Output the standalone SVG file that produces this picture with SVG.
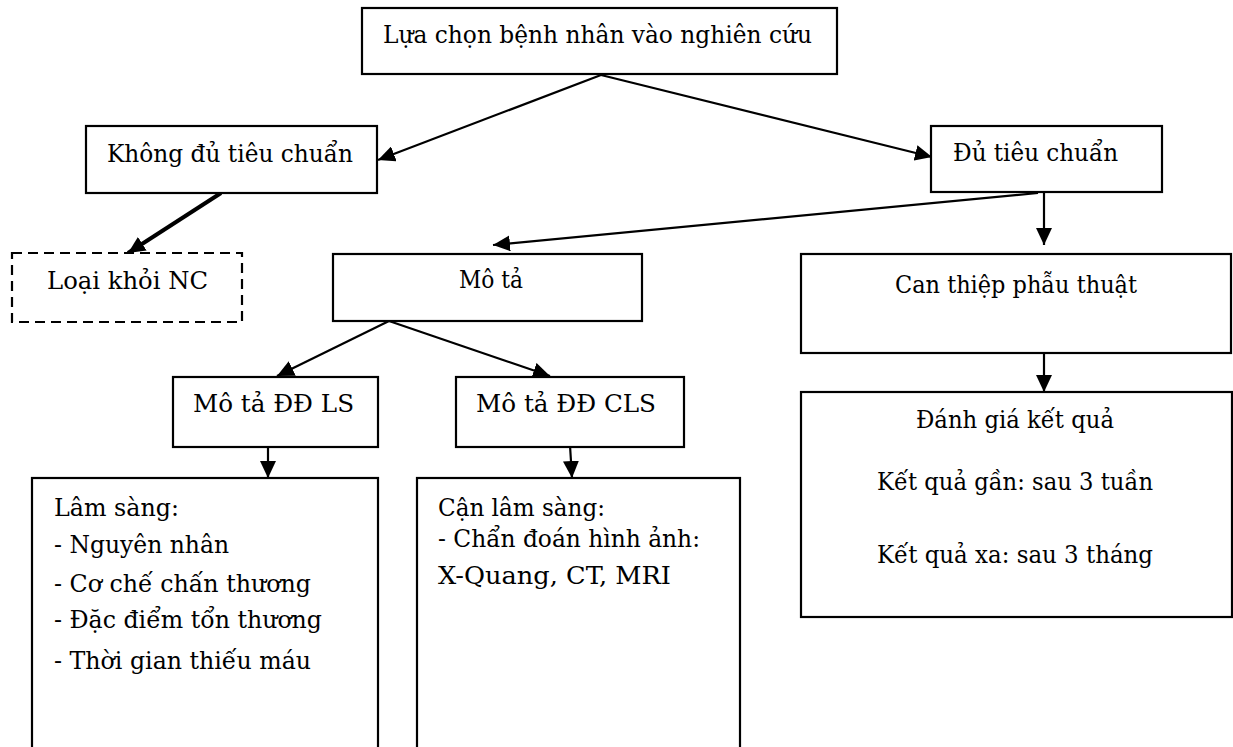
<svg xmlns="http://www.w3.org/2000/svg" width="1233" height="747" viewBox="0 0 1233 747">
<style>
.box{fill:#fff;stroke:#000;stroke-width:2.2}
.dash{fill:#fff;stroke:#000;stroke-width:2.2;stroke-dasharray:10 6}
.t{font-family:'DejaVu Serif','Liberation Serif',serif;font-size:24px;fill:#000}
.c{stroke:#000;stroke-width:2.2;fill:none}
.thick{stroke:#000;stroke-width:4;fill:none}
</style>
<defs>
<marker id="ah" markerUnits="userSpaceOnUse" markerWidth="18" markerHeight="16" refX="17" refY="8" orient="auto">
<path d="M0,0 L17,8 L0,16 Z" fill="#000"/>
</marker>
</defs>
<rect width="1233" height="747" fill="#fff"/>
<g id="connectors">
<line class="c" x1="601" y1="75" x2="378" y2="160" marker-end="url(#ah)"/>
<line class="c" x1="601" y1="75" x2="932" y2="157" marker-end="url(#ah)"/>
<line class="thick" x1="221" y1="193" x2="128" y2="253" marker-end="url(#ah)"/>
<line class="c" x1="1038" y1="193" x2="493" y2="245" marker-end="url(#ah)"/>
<line class="c" x1="1044" y1="193" x2="1044" y2="245" marker-end="url(#ah)"/>
<line class="c" x1="1044" y1="353" x2="1044" y2="392" marker-end="url(#ah)"/>
<line class="c" x1="389" y1="321" x2="277" y2="376" marker-end="url(#ah)"/>
<line class="c" x1="389" y1="321" x2="550" y2="376" marker-end="url(#ah)"/>
<line class="c" x1="268" y1="447" x2="268" y2="478" marker-end="url(#ah)"/>
<line class="c" x1="570" y1="445" x2="572" y2="478" marker-end="url(#ah)"/>
</g>
<g id="n-top">
<rect class="box" x="362" y="8" width="475" height="66"/>
<text class="t" x="383" y="43" textLength="429" lengthAdjust="spacingAndGlyphs">Lựa chọn bệnh nhân vào nghiên cứu</text>
</g>
<g id="n-khong">
<rect class="box" x="86" y="126" width="291" height="67"/>
<text class="t" x="107" y="162" textLength="246" lengthAdjust="spacingAndGlyphs">Không đủ tiêu chuẩn</text>
</g>
<g id="n-loai">
<rect class="dash" x="12" y="253" width="230" height="69"/>
<text class="t" x="47" y="289" textLength="161" lengthAdjust="spacingAndGlyphs">Loại khỏi NC</text>
</g>
<g id="n-du">
<rect class="box" x="931" y="126" width="231" height="66"/>
<text class="t" x="953" y="161" textLength="165" lengthAdjust="spacingAndGlyphs">Đủ tiêu chuẩn</text>
</g>
<g id="n-mota">
<rect class="box" x="333" y="254" width="309" height="67"/>
<text class="t" x="459" y="288" textLength="64" lengthAdjust="spacingAndGlyphs">Mô tả</text>
</g>
<g id="n-canthiep">
<rect class="box" x="801" y="254" width="430" height="99"/>
<text class="t" x="895" y="293" textLength="242" lengthAdjust="spacingAndGlyphs">Can thiệp phẫu thuật</text>
</g>
<g id="n-ls">
<rect class="box" x="173" y="377" width="205" height="70"/>
<text class="t" x="193" y="412" textLength="161" lengthAdjust="spacingAndGlyphs">Mô tả ĐĐ LS</text>
</g>
<g id="n-cls">
<rect class="box" x="456" y="377" width="228" height="70"/>
<text class="t" x="476" y="412" textLength="180" lengthAdjust="spacingAndGlyphs">Mô tả ĐĐ CLS</text>
</g>
<g id="n-lamsang">
<rect class="box" x="32" y="478" width="346" height="280"/>
<text class="t" x="54" y="516" textLength="125" lengthAdjust="spacingAndGlyphs">Lâm sàng:</text>
<text class="t" x="54" y="553" textLength="175" lengthAdjust="spacingAndGlyphs">- Nguyên nhân</text>
<text class="t" x="54" y="592" textLength="257" lengthAdjust="spacingAndGlyphs">- Cơ chế chấn thương</text>
<text class="t" x="54" y="628" textLength="268" lengthAdjust="spacingAndGlyphs">- Đặc điểm tổn thương</text>
<text class="t" x="54" y="669" textLength="257" lengthAdjust="spacingAndGlyphs">- Thời gian thiếu máu</text>
</g>
<g id="n-canlamsang">
<rect class="box" x="417" y="478" width="323" height="280"/>
<text class="t" x="438" y="516" textLength="167" lengthAdjust="spacingAndGlyphs">Cận lâm sàng:</text>
<text class="t" x="438" y="547" textLength="262" lengthAdjust="spacingAndGlyphs">- Chẩn đoán hình ảnh:</text>
<text class="t" x="438" y="584" textLength="233" lengthAdjust="spacingAndGlyphs">X-Quang, CT, MRI</text>
</g>
<g id="n-danhgia">
<rect class="box" x="801" y="392" width="431" height="225"/>
<text class="t" x="916" y="428" textLength="198" lengthAdjust="spacingAndGlyphs">Đánh giá kết quả</text>
<text class="t" x="877" y="490" textLength="276" lengthAdjust="spacingAndGlyphs">Kết quả gần: sau 3 tuần</text>
<text class="t" x="877" y="563" textLength="276" lengthAdjust="spacingAndGlyphs">Kết quả xa: sau 3 tháng</text>
</g>
</svg>
